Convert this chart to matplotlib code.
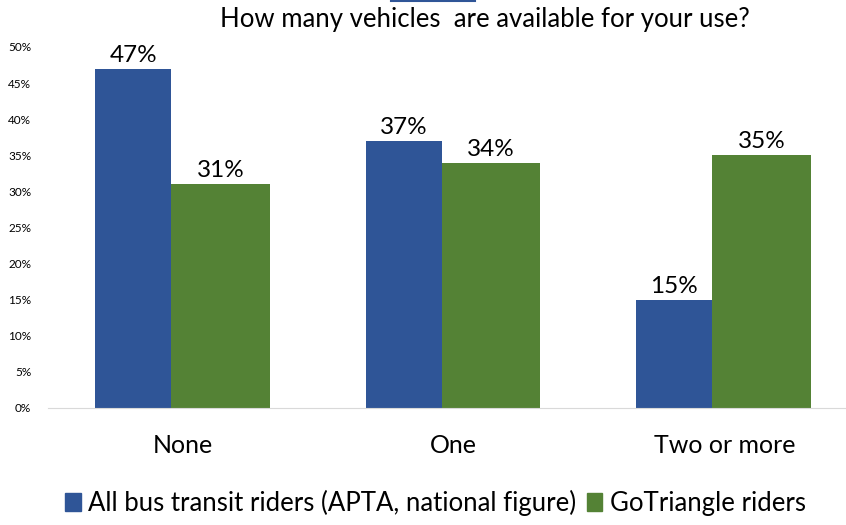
import numpy as np
import matplotlib.pyplot as plt
from matplotlib.patches import Patch
from matplotlib.lines import Line2D

plt.rcParams['font.family'] = ['Lato', 'DejaVu Sans']

categories = ["None", "One", "Two or more"]
apta = [0.47, 0.37, 0.15]
gotriangle = [0.31, 0.34, 0.35]
series_names = ["All bus transit riders (APTA, national figure)", "GoTriangle riders"]
blue = "#2F5597"
green = "#548235"

fig = plt.figure(figsize=(8.46, 5.25), dpi=100)
ax = fig.add_axes([0.0567, 0.2229, 0.9433, 0.6876])

x = np.arange(len(categories))
b1 = ax.bar(x - 0.325, apta, width=0.28, align='edge', color=blue, label=series_names[0])
b2 = ax.bar(x - 0.045, gotriangle, width=0.365, align='edge', color=green, label=series_names[1])

for bars, vals in ((b1, apta), (b2, gotriangle)):
    for r, v in zip(bars, vals):
        ax.text(r.get_x() + r.get_width() / 2, v + 0.004, f"{v:.0%}",
                ha='center', va='bottom', fontsize=17.5)

ax.set_xlim(-0.5, 2.45)
ax.set_ylim(0, 0.5)
ax.set_yticks(np.arange(0, 0.51, 0.05))
ax.set_yticklabels([f"{int(round(t * 100))}%" for t in np.arange(0, 0.51, 0.05)], fontsize=8.5)
ax.set_xticks(x)
ax.set_xticklabels(categories, fontsize=18)
ax.tick_params(axis='both', length=0)
ax.tick_params(axis='x', pad=19)
ax.tick_params(axis='y', pad=12)
for s in ['top', 'right', 'left']:
    ax.spines[s].set_visible(False)
ax.spines['bottom'].set_color('#D9D9D9')

fig.text(0.573, 0.962, "How many vehicles  are available for your use?",
         ha='center', va='center', fontsize=18.5)
fig.add_artist(Line2D([391 / 846, 475 / 846], [0.999, 0.999], color=blue, lw=1.5))

handles = [Patch(color=blue), Patch(color=green)]
fig.legend(handles, series_names, loc='center', bbox_to_anchor=(0.515, 0.042),
           ncol=2, frameon=False, fontsize=18.5, handlelength=0.6, handleheight=0.7,
           handletextpad=0.3, columnspacing=0.4)

fig.savefig("out.png", dpi=100)
